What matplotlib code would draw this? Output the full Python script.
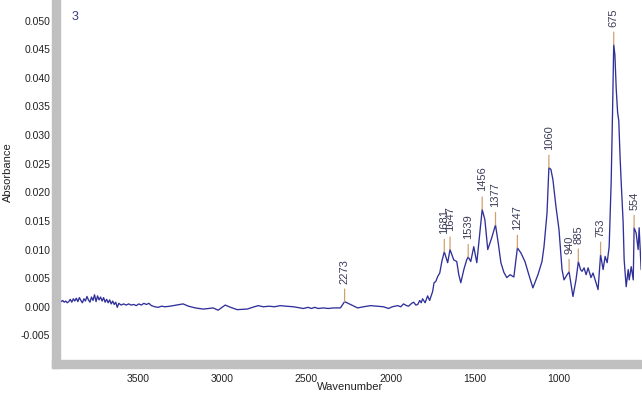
import numpy as np
import matplotlib
matplotlib.use("Agg")
import matplotlib.pyplot as plt
from matplotlib.patches import Rectangle

plt.rcParams["font.family"] = ["Liberation Sans", "DejaVu Sans"]

# spectrum (wavenumber, absorbance)
wavenumber = [
    3963, 3955, 3947, 3938, 3929, 3920, 3911, 3902, 3893, 3884, 3875, 3866,
    3857, 3848, 3839, 3830, 3821, 3812, 3803, 3794, 3785, 3776, 3767, 3758,
    3749, 3740, 3731, 3722, 3713, 3704, 3695, 3686, 3677, 3668, 3659, 3650,
    3641, 3632, 3623, 3614, 3600, 3585, 3570, 3555, 3540, 3525, 3510, 3495,
    3480, 3465, 3450, 3435, 3420, 3400, 3380, 3360, 3340, 3310, 3270, 3232,
    3200, 3160, 3113, 3080, 3054, 3024, 2982, 2950, 2911, 2851, 2820, 2786,
    2756, 2720, 2690, 2655, 2620, 2577, 2518, 2490, 2470, 2450, 2430, 2400,
    2370, 2340, 2298, 2273, 2238, 2196, 2160, 2119, 2080, 2042, 2012, 1990,
    1958, 1940, 1923, 1905, 1893, 1875, 1863, 1850, 1839, 1827, 1818, 1810,
    1795, 1780, 1768, 1750, 1742, 1732, 1720, 1708, 1695, 1681, 1661, 1647,
    1625, 1607, 1595, 1583, 1565, 1548, 1539, 1524, 1506, 1488, 1470, 1456,
    1440, 1423, 1400, 1377, 1360, 1345, 1327, 1310, 1290, 1268, 1247, 1226,
    1202, 1179, 1155, 1125, 1101, 1089, 1071, 1060, 1048, 1036, 1018, 1000,
    982, 970, 952, 940, 917, 899, 885, 872, 863, 851, 839, 827,
    810, 798, 780, 768, 753, 738, 726, 714, 702, 690, 682, 675,
    668, 660, 652, 645, 637, 631, 619, 613, 601, 589, 583, 571,
    559, 554, 542, 530, 524, 512, 505,
]
absorbance = [
    0.0012, 0.0009, 0.0011, 0.0008, 0.0010, 0.0007, 0.0009, 0.0013, 0.0008, 0.0014, 0.0010, 0.0015,
    0.0009, 0.0016, 0.0011, 0.0007, 0.0014, 0.0010, 0.0018, 0.0012, 0.0008, 0.0017, 0.0011, 0.0021,
    0.0009, 0.0019, 0.0012, 0.0017, 0.0010, 0.0016, 0.0008, 0.0013, 0.0007, 0.0012, 0.0005, 0.0010,
    0.0004, 0.0008, -0.0001, 0.0006, 0.0003, 0.0005, 0.0003, 0.0005, 0.0003, 0.0004, 0.0002, 0.0005,
    0.0003, 0.0006, 0.0004, 0.0006, 0.0002, 0.0000, -0.0001, 0.0001, 0.0000, 0.0001, 0.0003, 0.0005,
    0.0001, -0.0002, -0.0004, -0.0003, -0.0002, -0.0006, 0.0003, -0.0001, -0.0005, -0.0004, -0.0001, 0.0002,
    0.0000, 0.0001, 0.0000, 0.0002, 0.0001, 0.0000, -0.0003, -0.0001, -0.0003, -0.0001, -0.0003, -0.0002,
    -0.0003, -0.0002, -0.0002, 0.0009, 0.0004, -0.0002, 0.0000, 0.0002, 0.0001, 0.0000, -0.0003, 0.0000,
    0.0002, 0.0000, 0.0005, 0.0002, 0.0001, 0.0006, 0.0008, 0.0003, 0.0004, 0.0011, 0.0007, 0.0014,
    0.0007, 0.0019, 0.0011, 0.0027, 0.0042, 0.0044, 0.0053, 0.0059, 0.0080, 0.0096, 0.0077, 0.0100,
    0.0082, 0.0079, 0.0056, 0.0042, 0.0065, 0.0082, 0.0087, 0.0079, 0.0105, 0.0077, 0.0129, 0.0170,
    0.0152, 0.0100, 0.0120, 0.0143, 0.0110, 0.0077, 0.0060, 0.0051, 0.0056, 0.0052, 0.0103, 0.0094,
    0.0079, 0.0056, 0.0033, 0.0056, 0.0079, 0.0105, 0.0164, 0.0243, 0.0240, 0.0222, 0.0175, 0.0135,
    0.0065, 0.0047, 0.0056, 0.0061, 0.0018, 0.0047, 0.0079, 0.0065, 0.0062, 0.0068, 0.0056, 0.0068,
    0.0051, 0.0059, 0.0042, 0.0030, 0.0091, 0.0065, 0.0088, 0.0077, 0.0105, 0.0220, 0.0340, 0.0458,
    0.0440, 0.0380, 0.0340, 0.0325, 0.0260, 0.0220, 0.0147, 0.0082, 0.0035, 0.0065, 0.0047, 0.0070,
    0.0047, 0.0138, 0.0129, 0.0100, 0.0138, 0.0065, 0.0120,
]

# labelled peaks
peak_wn = [2273, 1681, 1647, 1539, 1456, 1377, 1247, 1060, 940, 885, 753, 675, 554]
peak_abs = [0.0009, 0.0096, 0.0100, 0.0087, 0.0170, 0.0143, 0.0103, 0.0243,
            0.0061, 0.0079, 0.0091, 0.0458, 0.0138]

W, H = 642, 397
fig = plt.figure(figsize=(W / 100, H / 100), dpi=100)
ax = fig.add_axes([60 / W, 1 - 360 / H, 581 / W, 360 / H])

# grey frame bands like the original software
band = "#c0c0c0"
fig.patches.append(Rectangle((52 / W, 1 - 368 / H), 8 / W, 368 / H,
                             transform=fig.transFigure, color=band, zorder=0))
fig.patches.append(Rectangle((52 / W, 1 - 368 / H), 589 / W, 8 / H,
                             transform=fig.transFigure, color=band, zorder=0))

ax.plot(wavenumber, absorbance, color="#30309a", lw=0.95)

for w, a in zip(peak_wn, peak_abs):
    ax.annotate(str(w), xy=(w, a), xytext=(0, 13), textcoords="offset points",
                rotation=90, ha="center", va="bottom", fontsize=8, color="#3c3c5a",
                arrowprops=dict(arrowstyle="-", color="#d2a06e", lw=0.9,
                                shrinkA=2, shrinkB=0))

ax.set_xlim(3963, 513)
ax.set_ylim(-0.0093, 0.0536)
ax.set_xticks([3500, 3000, 2500, 2000, 1500, 1000])
ax.set_xticks(np.arange(3900, 500, -100), minor=True)
ax.set_yticks([-0.005, 0.0, 0.005, 0.010, 0.015, 0.020, 0.025,
               0.030, 0.035, 0.040, 0.045, 0.050])
ax.yaxis.set_major_formatter(plt.FuncFormatter(lambda v, p: f"{v:.3f}"))

for s in ax.spines.values():
    s.set_visible(False)
ax.tick_params(axis="both", which="both", color="#c8404a", labelsize=7.5,
               labelcolor="#222222")
ax.tick_params(axis="y", length=4, width=0.8, pad=3)
ax.tick_params(axis="x", which="major", length=5, width=0.8, pad=5)
ax.tick_params(axis="x", which="minor", length=3, width=0.8)

ax.text(15 / 581, 1 - 17 / 360, "3", transform=ax.transAxes, fontsize=9,
        color="#3a3a80", ha="center", va="center")
fig.text(350 / W, 1 - 387 / H, "Wavenumber", ha="center", va="center",
         fontsize=8, color="#222222")
fig.text(8 / W, 1 - 172 / H, "Absorbance", ha="center", va="center",
         rotation=90, fontsize=8, color="#222222")

fig.savefig("out.png", dpi=100)
